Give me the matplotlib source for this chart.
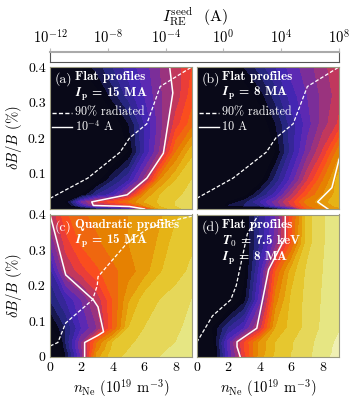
import numpy as np
import matplotlib
matplotlib.use('Agg')
import matplotlib.pyplot as plt

plt.rcParams['font.family'] = 'cmr10'
plt.rcParams['mathtext.fontset'] = 'cm'
plt.rcParams['axes.formatter.use_mathtext'] = True
plt.rcParams['axes.unicode_minus'] = False

n_ne = [0, 1, 2, 3, 4, 5, 6, 7, 8, 9]
db = [0, 0.01, 0.02, 0.04, 0.08, 0.16, 0.24, 0.32, 0.4]

# log10 of seed current, rows follow db
vals_a = [[-16, -16, -14, -12, -11, -9, -4, 2, 3.5, 4.5],
          [-16, -13, -8, -3.8, -3.6, -2.5, 1, 3, 4, 4.7],
          [-16, -12, -6, -3, -1.5, 0, 2, 3.2, 4, 4.6],
          [-16, -14, -12, -9, -7.5, -4, 1, 3, 3.7, 4.4],
          [-16, -16, -14, -12.5, -10, -8, -4.5, 1, 3, 4],
          [-16, -16, -16, -15, -14, -12, -8, -4.8, 0, 2.7],
          [-16, -16, -16, -15, -13, -11, -8, -5.5, -2.5, -0.5],
          [-16, -16, -16, -12.5, -10.5, -8.5, -7, -5.2, -3.7, -1.5],
          [-14, -13, -12, -10.5, -9, -7.5, -6.5, -5, -3.5, -2]]
vals_b = [[-16, -16, -16, -16, -16, -12, -8, -1, 0.5, 1.5],
          [-16, -16, -11, -10, -9, -6, -3, 0, 1.2, 2.5],
          [-16, -16, -12, -10.5, -8, -5.5, -2.5, 0.5, 1.5, 3],
          [-16, -16, -15, -12.5, -10, -7.5, -4, -1, 1, 2.5],
          [-16, -16, -16, -15, -12.5, -9.5, -6.5, -3, 0, 2.5],
          [-16, -16, -16, -16, -15, -12, -8.5, -5.5, -2.8, 0.7],
          [-16, -16, -16, -16, -13, -11, -8.5, -6.5, -4.5, -2.8],
          [-16, -16, -16, -13, -11.5, -9.5, -7.5, -6, -4.7, -3.5],
          [-14, -13, -12.5, -11, -9.5, -8, -6.5, -5.5, -4.3, -3.2]]
vals_c = [[-16, -11, -5.5, 1.5, 3.7, 4.2, 4.6, 5, 5.4, 5.7],
          [-16, -11, -5.5, 1.2, 3.5, 4.1, 4.5, 4.9, 5.3, 5.7],
          [-16, -10.5, -5.2, 0.6, 3.3, 4, 4.4, 4.8, 5.2, 5.6],
          [-16, -10, -5, 0, 3, 3.8, 4.3, 4.7, 5, 5.5],
          [-12.5, -10, -7, -5, -1, 3, 4, 4.4, 4.8, 5.3],
          [-10, -8, -6, -3.7, -1, 1.8, 3.5, 4, 4.4, 5],
          [-8.5, -4, -2.5, -1.2, -0.3, 0.5, 1.5, 2.9, 3.6, 4.2],
          [-6, -2.5, -0.8, -0.2, 0.5, 1, 1.3, 2.2, 3.5, 3.8],
          [-4, -1.2, -0.2, 0.3, 0.8, 1, 1.3, 1.8, 2.8, 3.5]]
vals_d = [[-16, -13, -7, -2.5, 1.5, 3.2, 4, 4.7, 5.7, 6.4],
          [-16, -13, -7, -2.3, 1.4, 3.1, 4, 4.7, 5.6, 6.3],
          [-16, -13, -6.8, -2.1, 1.3, 3, 3.9, 4.6, 5.6, 6.3],
          [-16, -12.5, -6.5, -2, 1.3, 3, 3.9, 4.6, 5.5, 6.2],
          [-16, -12, -9, -7, -3.5, 2, 3.4, 4.3, 5.2, 5.9],
          [-16, -16, -14, -11.5, -6.5, 0.5, 3.2, 4.3, 5.1, 5.8],
          [-16, -16, -15, -12.5, -7.5, -1, 2.5, 4.2, 5, 5.7],
          [-16, -16, -15, -12, -9, -5.5, -1, 3.6, 4.9, 5.7],
          [-16, -15, -14, -12, -9, -6, -1.5, 3.6, 4.9, 5.6]]

# solid and dashed curves
solid_a_x = [7.6, 7.8, 7.2, 6.15, 4.9, 2.65, 2.75, 5.05, 6.0]
solid_a_y = [0.4, 0.327, 0.157, 0.087, 0.04, 0.02, 0.01, 0.007, 0]
dash_a_x = [0, 2.4, 4.45, 5.05, 6.15, 7.0, 9.0]
dash_a_y = [0.03, 0.087, 0.16, 0.2, 0.24, 0.345, 0.4]
solid_b_x = [9.0, 8.95, 8.55, 7.65, 8.3]
solid_b_y = [0.14, 0.13, 0.06, 0.02, 0]
dash_b_x = [0, 2.3, 4.4, 5.0, 6.1, 7.0, 9.0]
dash_b_y = [0.03, 0.087, 0.16, 0.2, 0.24, 0.345, 0.4]
solid_c_x = [0, 1.0, 2.75, 3.05, 3.4, 3.05, 2.2, 2.2]
solid_c_y = [0.4, 0.23, 0.16, 0.14, 0.07, 0.06, 0.04, 0]
dash_c_x = [0, 0.5, 1.0, 2.7, 3.0, 3.05, 4.9, 6.2, 7.5, 9.0]
dash_c_y = [0.03, 0.04, 0.095, 0.16, 0.2, 0.225, 0.32, 0.36, 0.38, 0.395]
solid_d_x = [5.6, 5.6, 4.55, 3.8, 2.55, 2.55, 2.75]
solid_d_y = [0.4, 0.335, 0.245, 0.08, 0.042, 0.028, 0]
dash_d_x = [0, 1.0, 2.15, 2.5, 3.2, 3.9]
dash_d_y = [0.04, 0.115, 0.16, 0.2, 0.345, 0.4]

levels = np.arange(-12, 9, 1)
cbar_ticks = [1e-12, 1e-8, 1e-4, 1e0, 1e4, 1e8]
frame = '#9a9a80'

W, H = 353.0, 399.0
def make_ax(x0, x1, y0, y1):
    return fig.add_axes([x0 / W, 1 - y1 / H, (x1 - x0) / W, (y1 - y0) / H])

fig = plt.figure(figsize=(W / 100, H / 100), dpi=100)
ax_a = make_ax(50, 191.7, 67, 209)
ax_b = make_ax(196.7, 339, 67, 209)
ax_c = make_ax(50, 191.7, 214.5, 356.7)
ax_d = make_ax(196.7, 339, 214.5, 356.7)

cmap = plt.get_cmap('CMRmap').copy()
cmap.set_under('#090918')

panels = [(ax_a, vals_a, solid_a_x, solid_a_y, dash_a_x, dash_a_y),
          (ax_b, vals_b, solid_b_x, solid_b_y, dash_b_x, dash_b_y),
          (ax_c, vals_c, solid_c_x, solid_c_y, dash_c_x, dash_c_y),
          (ax_d, vals_d, solid_d_x, solid_d_y, dash_d_x, dash_d_y)]
for ax, vals, sx, sy, dx, dy in panels:
    ax.contourf(n_ne, db, np.array(vals), levels=levels, cmap=cmap,
                vmin=-12, vmax=8, extend='both')
    ax.plot(sx, sy, color='white', lw=1.1)
    ax.plot(dx, dy, color='white', lw=0.9, ls=(0, (3, 1.6)))
    ax.set_xlim(0, 9)
    ax.set_ylim(0, 0.4)
    ax.set_xticks([0, 2, 4, 6, 8])
    ax.set_yticks([0, 0.1, 0.2, 0.3, 0.4])
    ax.set_yticklabels(['0', '0.1', '0.2', '0.3', '0.4'])
    ax.tick_params(length=0, labelsize=10, pad=3)
    for s in ax.spines.values():
        s.set_color(frame)
        s.set_linewidth(0.8)

ax_a.set_xticklabels([])
ax_b.set_xticklabels([])
ax_b.set_yticklabels([])
ax_d.set_yticklabels([])
ax_a.set_yticks([0.1, 0.2, 0.3, 0.4])
ax_a.set_yticklabels(['0.1', '0.2', '0.3', '0.4'])
ax_a.set_ylabel(r'$\delta B/B$ (%)', fontsize=10.5, labelpad=3)
ax_c.set_ylabel(r'$\delta B/B$ (%)', fontsize=10.5, labelpad=3)
ax_c.set_xlabel(r'$n_{\mathrm{Ne}}$ $(10^{19}$ m$^{-3})$', fontsize=10.5, labelpad=2)
ax_d.set_xlabel(r'$n_{\mathrm{Ne}}$ $(10^{19}$ m$^{-3})$', fontsize=10.5, labelpad=2)

def note(ax, x, y, s, bold=True, size=9.5):
    ax.text(x, y, s, color='white', fontsize=size, va='center', ha='left',
            family='cmb10' if bold else 'cmr10')

note(ax_a, 0.3, 0.365, '(a)', bold=False, size=10)
note(ax_a, 1.6, 0.371, 'Flat profiles')
note(ax_a, 1.6, 0.325, r'$\boldsymbol{I}_{\mathbf{p}}$ = 15 MA')
note(ax_a, 1.6, 0.272, '90% radiated', bold=False, size=8.7)
note(ax_a, 1.6, 0.232, r'$10^{-4}$ A', bold=False, size=8.7)
note(ax_b, 0.3, 0.365, '(b)', bold=False, size=10)
note(ax_b, 1.6, 0.371, 'Flat profiles')
note(ax_b, 1.6, 0.325, r'$\boldsymbol{I}_{\mathbf{p}}$ = 8 MA')
note(ax_b, 1.6, 0.272, '90% radiated', bold=False, size=8.7)
note(ax_b, 1.6, 0.232, '10 A', bold=False, size=8.7)
note(ax_c, 0.3, 0.365, '(c)', bold=False, size=10)
note(ax_c, 1.6, 0.371, 'Quadratic profiles')
note(ax_c, 1.6, 0.325, r'$\boldsymbol{I}_{\mathbf{p}}$ = 15 MA')
note(ax_d, 0.3, 0.365, '(d)', bold=False, size=10)
note(ax_d, 1.6, 0.371, 'Flat profiles')
note(ax_d, 1.6, 0.327, r'$\boldsymbol{T}_{\mathbf{0}}$ = 7.5 keV')
note(ax_d, 1.6, 0.277, r'$\boldsymbol{I}_{\mathbf{p}}$ = 8 MA')

# legend samples drawn in axes fractions
for ax in (ax_a, ax_b):
    ax.plot([0.014, 0.155], [0.676, 0.676], transform=ax.transAxes, color='white',
            lw=1.0, ls=(0, (3, 1.6)))
    ax.plot([0.014, 0.155], [0.577, 0.577], transform=ax.transAxes, color='white', lw=1.0)

ax_top = make_ax(50, 339, 52, 62)
ax_top.set_xscale('log')
ax_top.set_xlim(1e-12, 1e8)
ax_top.set_yticks([])
ax_top.xaxis.tick_top()
ax_top.xaxis.set_label_position('top')
ax_top.set_xticks(cbar_ticks)
ax_top.minorticks_off()
ax_top.tick_params(axis='x', length=3, color='#bbbbbb', width=0.8, labelsize=10.5, pad=0.5)
ax_top.set_xlabel(r'$I_{\mathrm{RE}}^{\mathrm{seed}}$  (A)', fontsize=11.5, labelpad=5)
ax_top.spines['top'].set_color('#aaaaaa')
ax_top.spines['top'].set_linewidth(1.5)
for s in ('left', 'right', 'bottom'):
    ax_top.spines[s].set_color('#555555')
    ax_top.spines[s].set_linewidth(0.8)

fig.savefig('out.png', dpi=100)
